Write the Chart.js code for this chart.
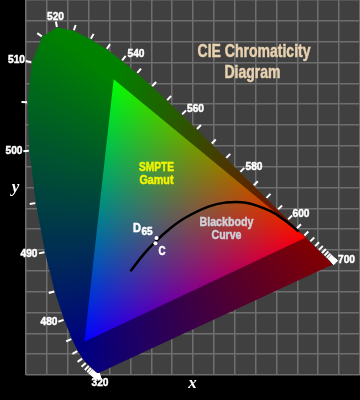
<!DOCTYPE html>
<html lang="en">

<head>
    <meta charset="UTF-8">
    <title>CIE Chromaticity Diagram</title>
    <script src="https://cdn.jsdelivr.net/npm/chart.js"></script>
    <style>
        html, body { margin: 0; padding: 0; background: #000; }
        canvas { display: block; }
    </style>
</head>

<body>
    <canvas id="cie-chart" width="360" height="400"></canvas>

    <script>
        // spectral locus, 380 to 700 nm in 5 nm steps
        const locusX = [0.1741, 0.1740, 0.1738, 0.1736, 0.1733, 0.1730, 0.1726, 0.1721, 0.1714, 0.1703, 0.1689, 0.1669, 0.1644, 0.1611, 0.1566, 0.1510, 0.1440, 0.1355, 0.1241, 0.1096, 0.0913, 0.0687, 0.0454, 0.0235, 0.0082, 0.0039, 0.0139, 0.0389, 0.0743, 0.1142, 0.1547, 0.1929, 0.2296, 0.2658, 0.3016, 0.3373, 0.3731, 0.4087, 0.4441, 0.4788, 0.5125, 0.5448, 0.5752, 0.6029, 0.6270, 0.6482, 0.6658, 0.6801, 0.6915, 0.7006, 0.7079, 0.7140, 0.7190, 0.7230, 0.7260, 0.7283, 0.7300, 0.7311, 0.7320, 0.7327, 0.7334, 0.7340, 0.7344, 0.7346, 0.7347];
        const locusY = [0.0050, 0.0050, 0.0049, 0.0049, 0.0048, 0.0048, 0.0048, 0.0048, 0.0051, 0.0058, 0.0069, 0.0086, 0.0109, 0.0138, 0.0177, 0.0227, 0.0297, 0.0399, 0.0578, 0.0868, 0.1327, 0.2007, 0.2950, 0.4127, 0.5384, 0.6548, 0.7502, 0.8120, 0.8338, 0.8262, 0.8059, 0.7816, 0.7543, 0.7243, 0.6923, 0.6589, 0.6245, 0.5896, 0.5547, 0.5202, 0.4866, 0.4544, 0.4242, 0.3965, 0.3725, 0.3514, 0.3340, 0.3197, 0.3083, 0.2993, 0.2920, 0.2859, 0.2809, 0.2770, 0.2740, 0.2717, 0.2700, 0.2689, 0.2680, 0.2673, 0.2666, 0.2660, 0.2656, 0.2654, 0.2653];

        // gamut triangle: red, green, blue
        const gamutX = [0.67, 0.21, 0.14];
        const gamutY = [0.33, 0.71, 0.08];

        const blackbodyX = [0.2500, 0.2807, 0.3064, 0.3451, 0.3805, 0.4369, 0.4770, 0.5267, 0.5857, 0.6251, 0.6528];
        const blackbodyY = [0.2490, 0.2884, 0.3166, 0.3516, 0.3768, 0.4041, 0.4137, 0.4133, 0.3931, 0.3674, 0.3444];

        // D65 and C
        const whiteX = [0.3127, 0.3100];
        const whiteY = [0.3290, 0.3160];

        const tickLabels = ['510', '520', '540', '560', '580', '600', '700', '500', '490', '480', '320'];

        function zipPoints(xs, ys) {
            return xs.map((x, i) => ({ x: x, y: ys[i] }));
        }

        // tick marks sit just outside the locus, square to it
        function tickNormal(i) {
            const a = Math.max(i - 1, 0);
            const b = Math.min(i + 1, locusX.length - 1);
            const tx = locusX[b] - locusX[a];
            const ty = locusY[b] - locusY[a];
            const len = Math.hypot(tx, ty);
            return { nx: -ty / len, ny: tx / len };
        }

        const tickPoints = locusX.map((x, i) => {
            const n = tickNormal(i);
            return { x: x + n.nx * 0.008, y: locusY[i] + n.ny * 0.008 };
        });
        const tickRotation = locusX.map((x, i) => {
            const n = tickNormal(i);
            return Math.atan2(-n.ny, n.nx) * 180 / Math.PI;
        });

        // weights of the red, green and blue primaries at a chromaticity
        function weights(x, y) {
            const [x1, x2, x3] = gamutX;
            const [y1, y2, y3] = gamutY;
            const det = (y2 - y3) * (x1 - x3) + (x3 - x2) * (y1 - y3);
            const r = ((y2 - y3) * (x - x3) + (x3 - x2) * (y - y3)) / det;
            const g = ((y3 - y1) * (x - x3) + (x1 - x3) * (y - y3)) / det;
            return [r, g, 1 - r - g];
        }

        function makePattern(chart, colorAt) {
            const off = document.createElement('canvas');
            off.width = chart.width;
            off.height = chart.height;
            const octx = off.getContext('2d');
            const img = octx.createImageData(off.width, off.height);
            for (let py = 0; py < off.height; py++) {
                for (let px = 0; px < off.width; px++) {
                    const c = colorAt(chart.scales.x.getValueForPixel(px + 0.5), chart.scales.y.getValueForPixel(py + 0.5));
                    const k = (py * off.width + px) * 4;
                    img.data[k] = c[0];
                    img.data[k + 1] = c[1];
                    img.data[k + 2] = c[2];
                    img.data[k + 3] = 255;
                }
            }
            octx.putImageData(img, 0, 0);
            return chart.ctx.createPattern(off, 'no-repeat');
        }

        function darkColor(x, y) {
            const w = weights(x, y).map(v => Math.max(v, 0));
            const sum = w[0] + w[1] + w[2];
            return w.map(v => 130 * v / sum);
        }

        function brightColor(x, y) {
            return weights(x, y).map(v => 255 * Math.pow(Math.min(Math.max(v, 0), 1), 0.92));
        }

        const plotBackground = {
            id: 'plotBackground',
            beforeDraw(chart) {
                const a = chart.chartArea;
                chart.ctx.fillStyle = '#404040';
                chart.ctx.fillRect(a.left, a.top, a.right - a.left, a.bottom - a.top);
            }
        };

        const textLabels = {
            id: 'textLabels',
            afterDraw(chart) {
                const ctx = chart.ctx;
                const sans = '"Liberation Sans", Arial, sans-serif';

                // the squeezed letters come out thin, so go over them once more
                function heavy(text, x, y, width) {
                    ctx.strokeStyle = ctx.fillStyle;
                    ctx.lineWidth = 0.5;
                    ctx.fillText(text, x, y, width);
                    ctx.strokeText(text, x, y, width);
                }

                ctx.save();
                ctx.textAlign = 'center';
                ctx.textBaseline = 'middle';

                ctx.fillStyle = '#e8d2b0';
                ctx.font = 'bold 18px ' + sans;
                heavy('CIE Chromaticity', 254, 52, 113);
                heavy('Diagram', 252.5, 73, 56);

                ctx.fillStyle = '#f4f400';
                ctx.font = 'bold 13px ' + sans;
                heavy('SMPTE', 156.5, 167, 35);
                heavy('Gamut', 156.5, 180, 34);

                ctx.fillStyle = '#cfcfd8';
                heavy('Blackbody', 226.5, 222.5, 54);
                heavy('Curve', 226.5, 235.5, 30);

                ctx.fillStyle = '#ffffff';
                ctx.font = 'bold 11.5px ' + sans;
                const spots = [[16.5, 60], [55.5, 17], [136, 54], [195.5, 109], [254, 167], [301, 214], [346.5, 260], [14, 151], [29, 254], [49, 322], [100, 383]];
                tickLabels.forEach((t, i) => heavy(t, spots[i][0], spots[i][1], 17));

                ctx.font = 'bold 13px ' + sans;
                heavy('D', 137, 228, 8);
                heavy('C', 162, 251, 7);
                ctx.font = 'bold 10px ' + sans;
                heavy('65', 147, 232, 12);

                ctx.font = 'italic bold 17px "Liberation Serif", serif';
                ctx.fillText('x', 192.5, 384);
                ctx.fillText('y', 15.5, 188);
                ctx.restore();
            }
        };

        const chart = new Chart(document.getElementById('cie-chart').getContext('2d'), {
            type: 'scatter',
            data: {
                datasets: [
                    {
                        label: 'Spectral locus',
                        data: zipPoints(locusX, locusY),
                        showLine: true,
                        fill: 'shape',
                        backgroundColor: '#004000',
                        borderWidth: 0,
                        pointRadius: 0,
                        order: 5
                    },
                    {
                        label: 'SMPTE gamut',
                        data: zipPoints(gamutX, gamutY),
                        showLine: true,
                        fill: 'shape',
                        backgroundColor: '#808080',
                        borderWidth: 0,
                        pointRadius: 0,
                        order: 4
                    },
                    {
                        label: 'Blackbody curve',
                        data: zipPoints(blackbodyX, blackbodyY),
                        showLine: true,
                        fill: false,
                        borderColor: '#000000',
                        borderWidth: 2.5,
                        tension: 0.4,
                        pointRadius: 0,
                        order: 3
                    },
                    {
                        label: 'White points',
                        data: zipPoints(whiteX, whiteY),
                        backgroundColor: '#ffffff',
                        borderWidth: 0,
                        pointRadius: 2,
                        order: 2
                    },
                    {
                        label: 'Wavelength ticks',
                        data: tickPoints,
                        pointStyle: 'line',
                        rotation: tickRotation,
                        radius: 2.8,
                        borderColor: '#ffffff',
                        borderWidth: 2,
                        clip: false,
                        order: 1
                    }
                ]
            },
            options: {
                responsive: false,
                animation: false,
                layout: { autoPadding: false, padding: { left: 26, right: 0, top: 0, bottom: 25 } },
                plugins: { legend: { display: false }, tooltip: { enabled: false } },
                scales: {
                    x: {
                        min: 0,
                        max: 0.8,
                        ticks: { stepSize: 0.05, display: false },
                        border: { display: false },
                        grid: { color: '#6e6e6e', lineWidth: 1.5, drawTicks: false }
                    },
                    y: {
                        min: 0,
                        max: 0.9,
                        ticks: { stepSize: 0.05, display: false },
                        border: { display: false },
                        grid: { color: '#6e6e6e', lineWidth: 1.5, drawTicks: false }
                    }
                }
            },
            plugins: [plotBackground, textLabels]
        });

        chart.data.datasets[0].backgroundColor = makePattern(chart, darkColor);
        chart.data.datasets[1].backgroundColor = makePattern(chart, brightColor);
        chart.update();
    </script>
</body>

</html>
